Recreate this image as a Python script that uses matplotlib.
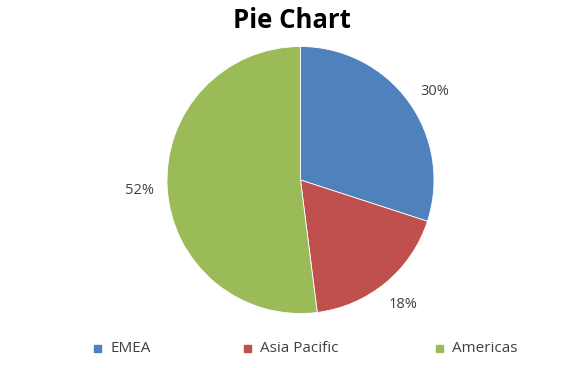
import matplotlib
matplotlib.use("Agg")
import matplotlib.pyplot as plt

# ─── Datos ─────────────────────────────────────────────────────────
regions = ["EMEA", "Asia Pacific", "Americas"]
shares  = [30, 18, 52]
colors  = ["#4F81BD", "#C0504D", "#9BBB59"]

plt.rcParams["font.family"] = ["Open Sans", "DejaVu Sans"]

W, H = 566, 368
fig = plt.figure(figsize=(W / 100, H / 100), dpi=100)

# pie centre / radius in pixels
cx, cy, r = 300.5, 180, 133.5
ax = fig.add_axes([(cx - r) / W, 1 - (cy + r) / H, 2 * r / W, 2 * r / H])

wedges, _, autotexts = ax.pie(
    shares, colors=colors, startangle=90, counterclock=False,
    autopct="%d%%", pctdistance=1.21,
    wedgeprops=dict(edgecolor="white", linewidth=0.6),
    textprops=dict(fontsize=10.5, color="#404040"),
)
# the 30% label sits a little lower than the wedge midline
x0, y0 = autotexts[0].get_position()
autotexts[0].set_position((x0 + 0.03, y0 - 0.05))

ax.set_xlim(-1, 1)
ax.set_ylim(-1, 1)
ax.set_aspect("equal")
ax.axis("off")

fig.text(291.5 / W, 1 - 21 / H, "Pie Chart", ha="center", va="center",
         fontsize=18.5, fontweight="bold", color="black")

# legend along the bottom
leg_x = [97, 247, 439]
for x, name, c in zip(leg_x, regions, colors):
    fig.patches.append(plt.Rectangle(((x - 3) / W, 1 - 351.5 / H), 7 / W, 7 / H,
                                     transform=fig.transFigure, color=c))
    fig.text((x + 13) / W, 1 - 348.5 / H, name, ha="left", va="center",
             fontsize=11, color="#404040")

fig.savefig("out.png", dpi=100)
